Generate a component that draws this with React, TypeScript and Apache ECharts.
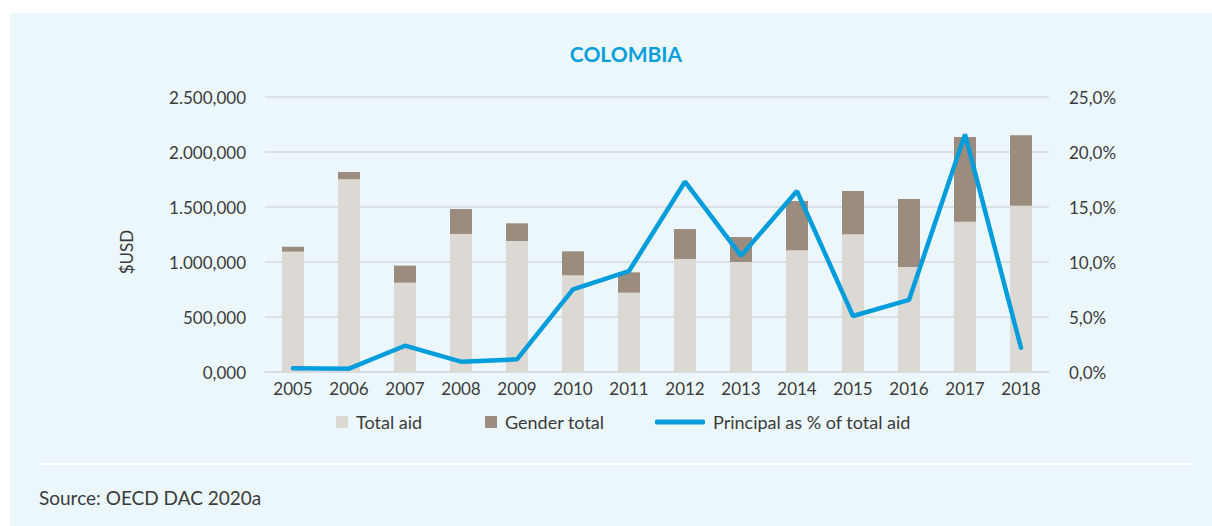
import React, { useEffect, useRef } from "react";
import * as echarts from "echarts";

const years = ["2005","2006","2007","2008","2009","2010","2011","2012","2013","2014","2015","2016","2017","2018"];
const totalAid = [1094000,1752000,812000,1255000,1191000,879000,721000,1027000,1000000,1106000,1252000,955000,1367000,1512000];
const genderTotal = [45000,66000,155000,227000,161000,218000,185000,273000,227000,449000,393000,618000,769000,640000];
const principalPct = [0.34,0.3,2.39,0.94,1.15,7.52,9.18,17.3,10.57,16.45,5.09,6.55,21.6,2.2];

const FONT = "Lato, 'Open Sans', sans-serif";
const TXT = "#3b3b3b";

function fmtUsd(v: number): string {
  if (v === 0) return "0,000";
  const k = Math.round(v / 1000);
  const s = k.toString().replace(/\B(?=(\d{3})+(?!\d))/g, ".");
  return s + ",000";
}

export default function App() {
  const ref = useRef<HTMLDivElement>(null);
  useEffect(() => {
    if (!ref.current) return;
    const chart = echarts.init(ref.current, null, { renderer: "svg" });
    const legText = { fontSize: 18, color: TXT, fontFamily: FONT, padding: [0, 0, 0, 3] };
    chart.setOption({
      animation: false,
      backgroundColor: "#ffffff",
      textStyle: { fontFamily: FONT },
      graphic: [
        { type: "rect", z: -10, shape: { x: 10, y: 13, width: 1202, height: 513 }, style: { fill: "#ECF7FC" } },
        { type: "rect", z: -9, shape: { x: 39, y: 463, width: 1156, height: 2 }, style: { fill: "#ffffff" } },
        { type: "text", x: 626, y: 53, style: { text: "COLOMBIA", fill: "#0A9FDB", font: `bold 21px ${FONT}`, textAlign: "center", textVerticalAlign: "middle" } },
        { type: "text", x: 126, y: 252, rotation: Math.PI / 2, style: { text: "$USD", fill: TXT, font: `17px ${FONT}`, textAlign: "center", textVerticalAlign: "middle" } },
        { type: "text", x: 39, y: 497, style: { text: "Source: OECD DAC 2020a", fill: TXT, font: `19px ${FONT}`, textAlign: "left", textVerticalAlign: "middle" } },
      ],
      grid: { left: 265, right: 163, top: 97, bottom: 154 },
      legend: [
        { left: 331, top: 408, itemWidth: 12, itemHeight: 12, icon: "rect", data: ["Total aid"], textStyle: legText },
        { left: 480, top: 408, itemWidth: 12, itemHeight: 12, icon: "rect", data: ["Gender total"], textStyle: legText },
        { left: 650, top: 408, itemWidth: 50, itemHeight: 5, icon: "roundRect", data: [{ name: "Principal as % of total aid", itemStyle: { color: "#009DDC" } }], textStyle: legText },
      ],
      xAxis: {
        type: "category",
        data: years,
        axisLine: { lineStyle: { color: "#D6D9DC", width: 1.5 } },
        axisTick: { show: false },
        axisLabel: { color: TXT, fontSize: 17, margin: 8, fontFamily: FONT },
      },
      yAxis: [
        {
          type: "value",
          min: 0,
          max: 2500000,
          interval: 500000,
          axisLine: { show: false },
          axisTick: { show: false },
          splitLine: { lineStyle: { color: "#D6D9DC", width: 1.5 } },
          axisLabel: { color: TXT, fontSize: 17, margin: 19, fontFamily: FONT, formatter: (v: number) => fmtUsd(v) },
        },
        {
          type: "value",
          min: 0,
          max: 25,
          interval: 5,
          axisLine: { show: false },
          axisTick: { show: false },
          splitLine: { show: false },
          axisLabel: { color: TXT, fontSize: 17, margin: 20, fontFamily: FONT, formatter: (v: number) => v.toFixed(1).replace(".", ",") + "%" },
        },
      ],
      series: [
        { name: "Total aid", type: "bar", stack: "a", barWidth: 22, data: totalAid, itemStyle: { color: "#DCD8D3" } },
        { name: "Gender total", type: "bar", stack: "a", barWidth: 22, data: genderTotal, itemStyle: { color: "#9C8C7D" } },
        {
          name: "Principal as % of total aid",
          type: "line",
          yAxisIndex: 1,
          data: principalPct,
          symbol: "none",
          lineStyle: { color: "#009DDC", width: 4.5, cap: "round" },
          itemStyle: { color: "#009DDC" },
          z: 5,
        },
      ],
    });
    return () => chart.dispose();
  }, []);
  return <div ref={ref} style={{ position: "fixed", left: 0, top: 0, width: 1212, height: 526 }} />;
}
